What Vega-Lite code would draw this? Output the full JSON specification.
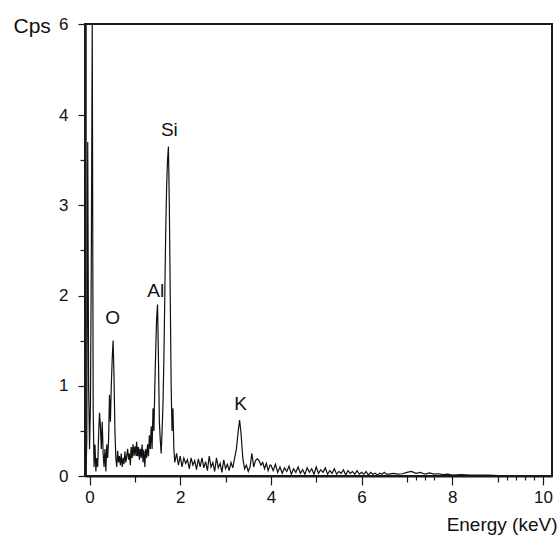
{
  "$schema": "https://vega.github.io/schema/vega-lite/v6.json",
  "width": 467,
  "height": 452,
  "autosize": {"type": "none"},
  "padding": {"left": 85, "top": 24, "right": 7, "bottom": 60},
  "background": "white",
  "config": {"view": {"stroke": "#1a1a1a", "strokeWidth": 2}, "font": "Liberation Sans"},
  "resolve": {"axis": {"x": "independent", "y": "independent"}},
  "datasets": {
    "spectrum": [
      {"energy": -0.08, "cps": 0}, {"energy": -0.06, "cps": 0.4}, {"energy": -0.04, "cps": 3.7}, {"energy": -0.02, "cps": 1.0},
      {"energy": 0.0, "cps": 0.3}, {"energy": 0.02, "cps": 0.8}, {"energy": 0.04, "cps": 2.5}, {"energy": 0.06, "cps": 6.0},
      {"energy": 0.08, "cps": 0.75}, {"energy": 0.1, "cps": 0.1}, {"energy": 0.12, "cps": 0.35}, {"energy": 0.14, "cps": 0.05},
      {"energy": 0.16, "cps": 0.2}, {"energy": 0.18, "cps": 0.1}, {"energy": 0.2, "cps": 0.45}, {"energy": 0.22, "cps": 0.7},
      {"energy": 0.24, "cps": 0.55}, {"energy": 0.26, "cps": 0.3}, {"energy": 0.28, "cps": 0.6}, {"energy": 0.3, "cps": 0.25},
      {"energy": 0.32, "cps": 0.1}, {"energy": 0.34, "cps": 0.3}, {"energy": 0.36, "cps": 0.05}, {"energy": 0.38, "cps": 0.35},
      {"energy": 0.4, "cps": 0.2}, {"energy": 0.42, "cps": 0.4}, {"energy": 0.44, "cps": 0.9}, {"energy": 0.46, "cps": 0.6},
      {"energy": 0.48, "cps": 1.0}, {"energy": 0.5, "cps": 1.3}, {"energy": 0.52, "cps": 1.5}, {"energy": 0.54, "cps": 1.1},
      {"energy": 0.56, "cps": 0.5}, {"energy": 0.58, "cps": 0.2}, {"energy": 0.6, "cps": 0.1}, {"energy": 0.62, "cps": 0.28},
      {"energy": 0.64, "cps": 0.15}, {"energy": 0.66, "cps": 0.22}, {"energy": 0.68, "cps": 0.12}, {"energy": 0.7, "cps": 0.25},
      {"energy": 0.72, "cps": 0.1}, {"energy": 0.74, "cps": 0.2}, {"energy": 0.76, "cps": 0.13}, {"energy": 0.78, "cps": 0.27},
      {"energy": 0.8, "cps": 0.15}, {"energy": 0.82, "cps": 0.22}, {"energy": 0.84, "cps": 0.3}, {"energy": 0.86, "cps": 0.18},
      {"energy": 0.88, "cps": 0.25}, {"energy": 0.9, "cps": 0.12}, {"energy": 0.92, "cps": 0.3}, {"energy": 0.94, "cps": 0.2},
      {"energy": 0.96, "cps": 0.35}, {"energy": 0.98, "cps": 0.22}, {"energy": 1.0, "cps": 0.33}, {"energy": 1.02, "cps": 0.25},
      {"energy": 1.04, "cps": 0.38}, {"energy": 1.06, "cps": 0.22}, {"energy": 1.08, "cps": 0.32}, {"energy": 1.1, "cps": 0.18},
      {"energy": 1.12, "cps": 0.3}, {"energy": 1.14, "cps": 0.2}, {"energy": 1.16, "cps": 0.35}, {"energy": 1.18, "cps": 0.15},
      {"energy": 1.2, "cps": 0.28}, {"energy": 1.22, "cps": 0.1}, {"energy": 1.24, "cps": 0.3}, {"energy": 1.26, "cps": 0.2},
      {"energy": 1.28, "cps": 0.35}, {"energy": 1.3, "cps": 0.22}, {"energy": 1.32, "cps": 0.45}, {"energy": 1.34, "cps": 0.3},
      {"energy": 1.36, "cps": 0.55}, {"energy": 1.38, "cps": 0.3}, {"energy": 1.4, "cps": 0.75}, {"energy": 1.42, "cps": 0.5},
      {"energy": 1.44, "cps": 1.0}, {"energy": 1.46, "cps": 1.4}, {"energy": 1.48, "cps": 1.75}, {"energy": 1.5, "cps": 1.9},
      {"energy": 1.52, "cps": 1.3}, {"energy": 1.54, "cps": 0.6}, {"energy": 1.56, "cps": 0.4}, {"energy": 1.58, "cps": 0.25},
      {"energy": 1.6, "cps": 0.5}, {"energy": 1.62, "cps": 0.8}, {"energy": 1.64, "cps": 1.3}, {"energy": 1.66, "cps": 2.0},
      {"energy": 1.68, "cps": 2.7}, {"energy": 1.7, "cps": 3.2}, {"energy": 1.72, "cps": 3.5}, {"energy": 1.74, "cps": 3.65},
      {"energy": 1.76, "cps": 3.0}, {"energy": 1.78, "cps": 2.0}, {"energy": 1.8, "cps": 1.0}, {"energy": 1.82, "cps": 0.5},
      {"energy": 1.84, "cps": 0.75}, {"energy": 1.86, "cps": 0.3}, {"energy": 1.88, "cps": 0.15}, {"energy": 1.92, "cps": 0.25},
      {"energy": 1.96, "cps": 0.12}, {"energy": 2.0, "cps": 0.22}, {"energy": 2.04, "cps": 0.1}, {"energy": 2.08, "cps": 0.2},
      {"energy": 2.12, "cps": 0.14}, {"energy": 2.16, "cps": 0.18}, {"energy": 2.2, "cps": 0.08}, {"energy": 2.24, "cps": 0.2},
      {"energy": 2.28, "cps": 0.12}, {"energy": 2.32, "cps": 0.17}, {"energy": 2.36, "cps": 0.07}, {"energy": 2.4, "cps": 0.19},
      {"energy": 2.44, "cps": 0.1}, {"energy": 2.48, "cps": 0.2}, {"energy": 2.52, "cps": 0.09}, {"energy": 2.56, "cps": 0.16},
      {"energy": 2.6, "cps": 0.06}, {"energy": 2.64, "cps": 0.22}, {"energy": 2.68, "cps": 0.1}, {"energy": 2.72, "cps": 0.15},
      {"energy": 2.76, "cps": 0.05}, {"energy": 2.8, "cps": 0.2}, {"energy": 2.84, "cps": 0.09}, {"energy": 2.88, "cps": 0.14},
      {"energy": 2.92, "cps": 0.04}, {"energy": 2.96, "cps": 0.18}, {"energy": 3.0, "cps": 0.08}, {"energy": 3.04, "cps": 0.13},
      {"energy": 3.08, "cps": 0.06}, {"energy": 3.12, "cps": 0.15}, {"energy": 3.16, "cps": 0.09}, {"energy": 3.2, "cps": 0.2},
      {"energy": 3.24, "cps": 0.3}, {"energy": 3.28, "cps": 0.5}, {"energy": 3.31, "cps": 0.62}, {"energy": 3.34, "cps": 0.48},
      {"energy": 3.38, "cps": 0.2}, {"energy": 3.42, "cps": 0.08}, {"energy": 3.46, "cps": 0.12}, {"energy": 3.5, "cps": 0.05},
      {"energy": 3.54, "cps": 0.1}, {"energy": 3.58, "cps": 0.25}, {"energy": 3.62, "cps": 0.1}, {"energy": 3.66, "cps": 0.17},
      {"energy": 3.7, "cps": 0.19}, {"energy": 3.74, "cps": 0.17}, {"energy": 3.78, "cps": 0.12}, {"energy": 3.82, "cps": 0.15},
      {"energy": 3.86, "cps": 0.08}, {"energy": 3.9, "cps": 0.14}, {"energy": 3.94, "cps": 0.06}, {"energy": 3.98, "cps": 0.12},
      {"energy": 4.0, "cps": 0.12}, {"energy": 4.05, "cps": 0.06}, {"energy": 4.1, "cps": 0.13}, {"energy": 4.15, "cps": 0.04},
      {"energy": 4.2, "cps": 0.1}, {"energy": 4.25, "cps": 0.03}, {"energy": 4.3, "cps": 0.09}, {"energy": 4.35, "cps": 0.05},
      {"energy": 4.4, "cps": 0.11}, {"energy": 4.45, "cps": 0.02}, {"energy": 4.5, "cps": 0.08}, {"energy": 4.55, "cps": 0.04},
      {"energy": 4.6, "cps": 0.1}, {"energy": 4.65, "cps": 0.03}, {"energy": 4.7, "cps": 0.07}, {"energy": 4.75, "cps": 0.02},
      {"energy": 4.8, "cps": 0.09}, {"energy": 4.85, "cps": 0.04}, {"energy": 4.9, "cps": 0.08}, {"energy": 4.95, "cps": 0.02},
      {"energy": 5.0, "cps": 0.1}, {"energy": 5.05, "cps": 0.03}, {"energy": 5.1, "cps": 0.07}, {"energy": 5.15, "cps": 0.04},
      {"energy": 5.2, "cps": 0.09}, {"energy": 5.25, "cps": 0.02}, {"energy": 5.3, "cps": 0.06}, {"energy": 5.35, "cps": 0.03},
      {"energy": 5.4, "cps": 0.08}, {"energy": 5.45, "cps": 0.02}, {"energy": 5.5, "cps": 0.05}, {"energy": 5.55, "cps": 0.03},
      {"energy": 5.6, "cps": 0.07}, {"energy": 5.65, "cps": 0.01}, {"energy": 5.7, "cps": 0.06}, {"energy": 5.75, "cps": 0.03},
      {"energy": 5.8, "cps": 0.05}, {"energy": 5.85, "cps": 0.02}, {"energy": 5.9, "cps": 0.06}, {"energy": 5.95, "cps": 0.02},
      {"energy": 6.0, "cps": 0.04}, {"energy": 6.05, "cps": 0.02}, {"energy": 6.1, "cps": 0.05}, {"energy": 6.15, "cps": 0.01},
      {"energy": 6.2, "cps": 0.04}, {"energy": 6.25, "cps": 0.02}, {"energy": 6.3, "cps": 0.03}, {"energy": 6.35, "cps": 0.01},
      {"energy": 6.4, "cps": 0.03}, {"energy": 6.45, "cps": 0.02}, {"energy": 6.5, "cps": 0.04}, {"energy": 6.55, "cps": 0.02},
      {"energy": 6.6, "cps": 0.02}, {"energy": 6.7, "cps": 0.03}, {"energy": 6.8, "cps": 0.02}, {"energy": 6.9, "cps": 0.025},
      {"energy": 7.0, "cps": 0.04}, {"energy": 7.1, "cps": 0.05}, {"energy": 7.2, "cps": 0.03}, {"energy": 7.3, "cps": 0.04},
      {"energy": 7.4, "cps": 0.02}, {"energy": 7.5, "cps": 0.035}, {"energy": 7.6, "cps": 0.02}, {"energy": 7.7, "cps": 0.025},
      {"energy": 7.8, "cps": 0.015}, {"energy": 7.9, "cps": 0.02}, {"energy": 8.0, "cps": 0.01}, {"energy": 8.2, "cps": 0.015},
      {"energy": 8.4, "cps": 0.01}, {"energy": 8.6, "cps": 0.01}, {"energy": 8.8, "cps": 0.01}, {"energy": 9.0, "cps": 0.005}
    ],
    "peaks": [
      {"element": "O", "energy": 0.51, "cps": 1.75, "size": 19},
      {"element": "Na", "energy": 1.05, "cps": 0.27, "size": 12},
      {"element": "Al", "energy": 1.46, "cps": 2.05, "size": 19},
      {"element": "Si", "energy": 1.76, "cps": 3.83, "size": 19},
      {"element": "K", "energy": 3.33, "cps": 0.8, "size": 19}
    ]
  },
  "layer": [
    {
      "data": {"name": "spectrum"},
      "mark": {"type": "line", "color": "#111111", "strokeWidth": 1.2, "clip": true},
      "encoding": {
        "x": {
          "field": "energy", "type": "quantitative",
          "scale": {"domain": [-0.1, 10.2], "nice": false, "zero": false},
          "axis": {
            "orient": "bottom",
            "values": [0, 2, 4, 6, 8, 10],
            "format": "d", "tickSize": 9,
            "grid": false, "labelFlush": false, "labelOverlap": false,
            "domainColor": "#1a1a1a", "domainWidth": 2, "tickColor": "#1a1a1a", "tickWidth": 1.2,
            "labelFontSize": 17, "labelColor": "#111111", "labelPadding": 4,
            "title": "Energy (keV)", "titleFontSize": 19, "titleFontWeight": "normal", "titleColor": "#111111",
            "titleX": 472, "titleY": 54, "titleAlign": "right", "titleBaseline": "alphabetic"
          }
        },
        "y": {
          "field": "cps", "type": "quantitative",
          "scale": {"domain": [0, 4, 6], "range": [452, 91, 0], "nice": false, "zero": false},
          "axis": {
            "orient": "left",
            "values": [0, 1, 2, 3, 4, 6],
            "format": "d", "tickSize": 7,
            "grid": false, "labelFlush": false, "labelOverlap": false,
            "domainColor": "#1a1a1a", "domainWidth": 2.5, "tickColor": "#1a1a1a", "tickWidth": 1.2,
            "labelFontSize": 17, "labelColor": "#111111", "labelPadding": 10,
            "title": "Cps", "titleFontSize": 21, "titleFontWeight": "normal", "titleColor": "#111111", "titleAngle": 0,
            "titleX": -72, "titleY": 8, "titleAlign": "left", "titleBaseline": "alphabetic"
          }
        }
      }
    },
    {
      "data": {"name": "peaks"},
      "mark": {"type": "text", "color": "#111111", "baseline": "middle", "align": "center"},
      "encoding": {
        "x": {
          "field": "energy", "type": "quantitative",
          "axis": {"orient": "bottom", "values": [1, 3, 5, 7, 9], "tickSize": 6, "tickColor": "#1a1a1a", "tickWidth": 1.2,
                   "labels": false, "domain": false, "grid": false, "title": null}
        },
        "y": {
          "field": "cps", "type": "quantitative",
          "axis": {"orient": "left", "values": [0.5, 1.5, 2.5, 3.5], "tickSize": 5, "tickColor": "#1a1a1a", "tickWidth": 1.2,
                   "labels": false, "domain": false, "grid": false, "title": null}
        },
        "text": {"field": "element"},
        "size": {"field": "size", "type": "quantitative", "scale": null, "legend": null}
      }
    },
    {
      "data": {"name": "peaks"},
      "mark": {"type": "text", "opacity": 0},
      "encoding": {
        "x": {
          "field": "energy", "type": "quantitative",
          "axis": {"orient": "bottom", "values": [7.2, 7.4, 7.6, 9.2, 9.4, 9.6, 9.8], "tickSize": 4, "tickColor": "#1a1a1a", "tickWidth": 1.2,
                   "labels": false, "domain": false, "grid": false, "title": null}
        },
        "y": {"field": "cps", "type": "quantitative", "axis": null},
        "text": {"field": "element"}
      }
    }
  ]
}
